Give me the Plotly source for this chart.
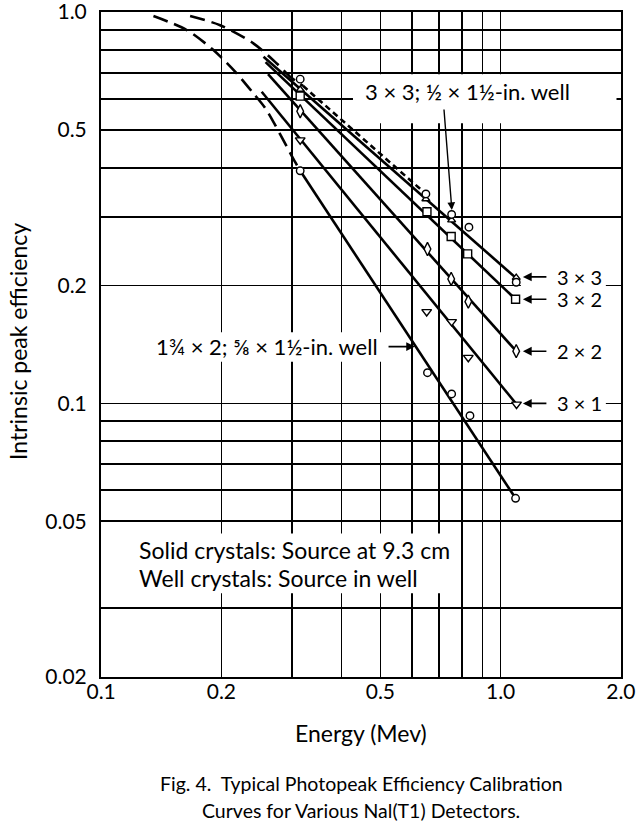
import math
import plotly.graph_objects as go

FONT = "Lato"

# ---- axes / ticks ----
x_tick_vals = [0.1, 0.2, 0.5, 1.0, 2.0]
x_tick_text = ["0.1", "0.2", "0.5", "1.0", "2.0"]
x_grid_minor = [0.3, 0.4, 0.6, 0.7, 0.8, 0.9]
y_tick_vals = [0.02, 0.05, 0.1, 0.2, 0.5, 1.0]
y_tick_text = ["0.02", "0.05", "0.1", "0.2", "0.5", "1.0"]
y_grid_minor = [0.03, 0.06, 0.07, 0.08, 0.09, 0.3, 0.4, 0.6, 0.7, 0.8, 0.9]

# ---- calibration lines (solid) ----
line_3x3_E = [0.255, 1.094]
line_3x3_eff = [0.769, 0.209]
line_3x2_E = [0.258, 1.09]
line_3x2_eff = [0.745, 0.1845]
line_2x2_E = [0.2617, 1.094]
line_2x2_eff = [0.694, 0.136]
line_3x1_E = [0.2523, 1.096]
line_3x1_eff = [0.626, 0.0995]
line_134_E = [0.315, 1.09]
line_134_eff = [0.393, 0.0572]

# ---- dashed low-energy curves ----
well_3x3_curve_E = [0.167, 0.1985, 0.2405, 0.2752, 0.297, 0.32]
well_3x3_curve_eff = [0.977, 0.926, 0.832, 0.739, 0.684, 0.648]
well_3x3_straight_E = [0.32, 0.396, 0.65]
well_3x3_straight_eff = [0.648, 0.535, 0.343]
well_134_E = [0.1352, 0.1638, 0.191, 0.2185, 0.2405, 0.2585, 0.3058, 0.315]
well_134_eff = [0.977, 0.90, 0.80, 0.697, 0.62, 0.565, 0.414, 0.393]

# ---- measured points ----
tri_up_E = [0.315, 0.65, 0.754, 1.094]
tri_up_eff = [0.634, 0.333, 0.294, 0.2096]
circ_E = [0.315, 0.65, 0.754, 0.833, 1.094]
circ_eff = [0.674, 0.343, 0.304, 0.282, 0.204]
sq_E = [0.315, 0.654, 0.752, 0.827, 1.09]
sq_eff = [0.61, 0.309, 0.267, 0.241, 0.1845]
dia_E = [0.315, 0.656, 0.752, 0.83, 1.094]
dia_eff = [0.558, 0.248, 0.208, 0.182, 0.136]
tri_dn_E = [0.315, 0.653, 0.754, 0.83, 1.096]
tri_dn_eff = [0.471, 0.1715, 0.1617, 0.131, 0.0995]
small_circ_E = [0.315, 0.656, 0.754, 0.838, 1.09]
small_circ_eff = [0.393, 0.1198, 0.1057, 0.093, 0.0572]

# ---- labels ----
right_labels = ["3 × 3", "3 × 2", "2 × 2", "3 × 1"]
right_label_eff = [0.2105, 0.1845, 0.1359, 0.1]

L = math.log10

fig = go.Figure()

LW = 2.6
for xs, ys in [(line_3x3_E, line_3x3_eff), (line_3x2_E, line_3x2_eff),
               (line_2x2_E, line_2x2_eff), (line_3x1_E, line_3x1_eff),
               (line_134_E, line_134_eff)]:
    fig.add_trace(go.Scatter(x=xs, y=ys, mode="lines",
                             line=dict(color="black", width=LW)))

fig.add_trace(go.Scatter(x=well_3x3_curve_E, y=well_3x3_curve_eff, mode="lines",
                         line=dict(color="black", width=LW, dash="15px,7px",
                                   shape="spline", smoothing=0.8)))
fig.add_trace(go.Scatter(x=well_3x3_straight_E, y=well_3x3_straight_eff, mode="lines",
                         line=dict(color="black", width=LW, dash="6px,4px")))
fig.add_trace(go.Scatter(x=well_134_E, y=well_134_eff, mode="lines",
                         line=dict(color="black", width=LW, dash="15px,7px",
                                   shape="spline", smoothing=0.8)))

MK_LINE = dict(color="black", width=1.4)
for xs, ys, sym, size in [
    (tri_up_E, tri_up_eff, "triangle-up", 7),
    (sq_E, sq_eff, "square", 8),
    (dia_E, dia_eff, "diamond-tall", 9.5),
    (tri_dn_E, tri_dn_eff, "triangle-down", 8.5),
    (small_circ_E, small_circ_eff, "circle", 7.5),
    (circ_E, circ_eff, "circle", 7.5),
]:
    fig.add_trace(go.Scatter(x=xs, y=ys, mode="markers",
                             marker=dict(symbol=sym, size=size, color="white",
                                         line=MK_LINE)))

# white label backgrounds (between grid and traces)
shapes = []
for x0, x1, y0, y1 in [
    (0.427, 1.95, 0.52, 0.694),
    (0.1252, 0.5164, 0.1277, 0.152),
    (1.124, 1.834, 0.171, 0.2239),
    (1.124, 1.834, 0.0942, 0.1074),
    (0.1, 0.79, 0.0327, 0.0465),
]:
    shapes.append(dict(type="rect", xref="x", yref="y", x0=x0, x1=x1, y0=y0, y1=y1,
                       fillcolor="white", line=dict(width=0), layer="between"))

tickfont = dict(family=FONT, size=21, color="black")
lblfont = dict(family=FONT, size=20, color="black")
wellfont = dict(family=FONT, size=22, color="black")
bigfont = dict(family=FONT, size=23, color="black")
capfont = dict(family=FONT, size=19.5, color="black")
ann = []
ann.append(dict(x=L(0.4524), y=L(0.626), xref="x", yref="y", text="3 × 3; ½ × 1½-in. well",
                showarrow=False, xanchor="left", yanchor="middle", font=wellfont))
ann.append(dict(x=L(0.5), y=L(0.1397), xref="x", yref="y", text="1¾ × 2; ⅝ × 1½-in. well",
                showarrow=False, xanchor="right", yanchor="middle", font=wellfont))
for lab, yv in zip(right_labels, right_label_eff):
    ann.append(dict(x=L(1.367), y=L(yv), xref="x", yref="y", text=lab, showarrow=False,
                    xanchor="left", yanchor="middle", font=lblfont))
    ann.append(dict(x=L(1.137), y=L(yv), xref="x", yref="y", text="", showarrow=True,
                    ax=25, ay=0, arrowhead=2, arrowsize=1.1, arrowwidth=1.6,
                    arrowcolor="black"))
ann.append(dict(x=L(0.755), y=L(0.312), xref="x", yref="y", text="", showarrow=True,
                ax=-8, ay=-102, arrowhead=2, arrowsize=1.1, arrowwidth=1.4,
                arrowcolor="black"))
ann.append(dict(x=L(0.6106), y=L(0.1397), xref="x", yref="y", text="", showarrow=True,
                ax=-28, ay=0, arrowhead=2, arrowsize=1.1, arrowwidth=1.6,
                arrowcolor="black"))
ann.append(dict(x=L(0.123), y=L(0.0422), xref="x", yref="y",
                text="Solid crystals: Source at 9.3 cm",
                showarrow=False, xanchor="left", yanchor="middle", font=bigfont))
ann.append(dict(x=L(0.123), y=L(0.0357), xref="x", yref="y",
                text="Well crystals: Source in well",
                showarrow=False, xanchor="left", yanchor="middle", font=bigfont))
# axis titles & caption
ann.append(dict(x=-0.1596, y=0.5038, xref="paper", yref="paper", text="Intrinsic peak efficiency",
                showarrow=False, textangle=-90, xanchor="center", yanchor="middle", font=bigfont))
ann.append(dict(x=0.5, y=-0.0842, xref="paper", yref="paper", text="Energy (Mev)",
                showarrow=False, xanchor="center", yanchor="middle", font=bigfont))
ann.append(dict(x=0.5, y=-0.1594, xref="paper", yref="paper",
                text="Fig. 4.  Typical Photopeak Efficiency Calibration",
                showarrow=False, xanchor="center", yanchor="middle", font=capfont))
ann.append(dict(x=0.5, y=-0.2015, xref="paper", yref="paper",
                text="Curves for Various Nal(T1) Detectors.",
                showarrow=False, xanchor="center", yanchor="middle", font=capfont))

axis_common = dict(showline=True, linecolor="black", linewidth=2, mirror=True,
                   showgrid=True, gridcolor="black", gridwidth=1.6, ticks="",
                   zeroline=False, tickfont=tickfont, automargin=False,
                   ticklabeloverflow="allow")

fig.update_layout(
    width=636, height=825,
    margin=dict(l=101, r=15, t=12, b=148, autoexpand=False),
    paper_bgcolor="white", plot_bgcolor="white",
    showlegend=False,
    font=lblfont,
    shapes=shapes,
    annotations=ann,
    xaxis=dict(type="log", range=[-1.0003, 0.3013], tickvals=x_tick_vals,
               ticktext=x_tick_text, ticklabelstandoff=-5,
               minor=dict(tickvals=x_grid_minor, showgrid=True, gridcolor="black",
                          gridwidth=1.6, ticks=""),
               **axis_common),
    yaxis=dict(type="log", range=[-1.6993, 0.0003], tickvals=y_tick_vals,
               ticktext=y_tick_text, ticklabelstandoff=8,
               minor=dict(tickvals=y_grid_minor, showgrid=True, gridcolor="black",
                          gridwidth=1.6, ticks=""),
               **axis_common),
)

fig.write_html("out.html",
               config={"displayModeBar": False, "staticPlot": True},
               post_script="document.body.style.margin='0px';document.body.style.padding='0px';")
